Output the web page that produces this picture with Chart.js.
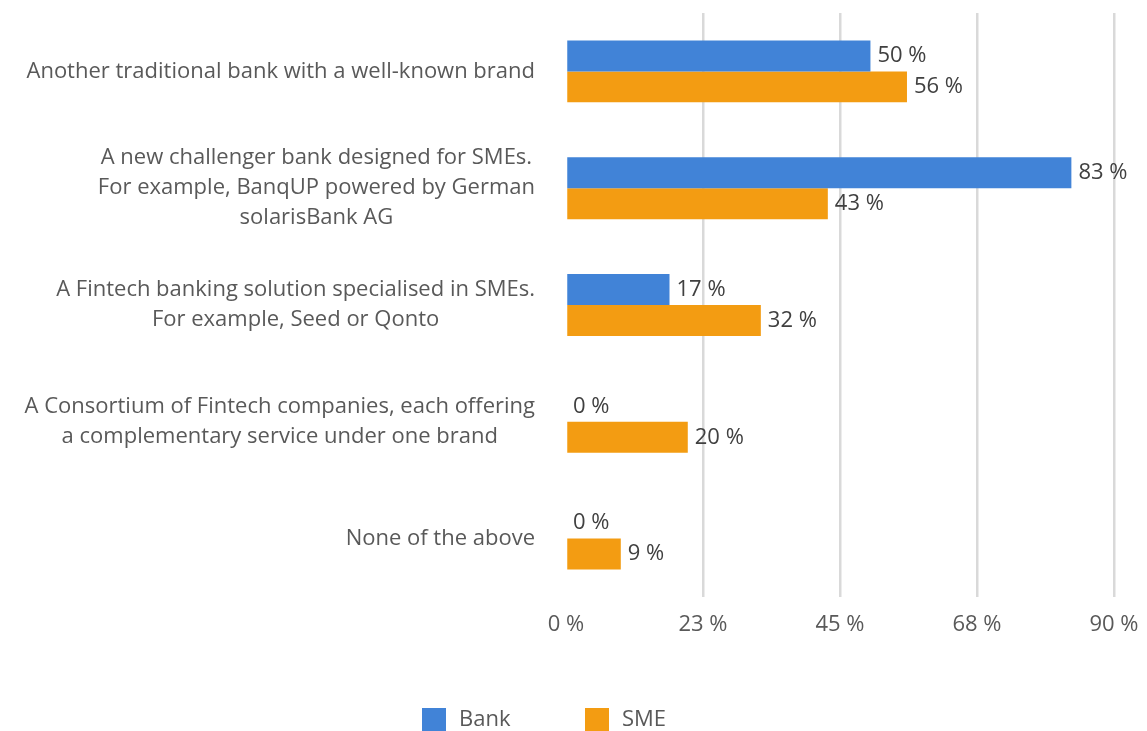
<!DOCTYPE html>
<html>
<head>
<meta charset="utf-8">
<script src="https://cdn.jsdelivr.net/npm/chart.js@4"></script>
<style>
    html, body { margin: 0; padding: 0; background: #ffffff; }
    #wrap { width: 1147px; height: 731px; position: relative; }
</style>
</head>
<body>
<div id="wrap"><canvas id="optionsChart"></canvas></div>
<script>
const categories = [
    ['Another traditional bank with a well-known brand'],
    ['A new challenger bank designed for SMEs.', 'For example, BanqUP powered by German', 'solarisBank AG'],
    ['A Fintech banking solution specialised in SMEs.', 'For example, Seed or Qonto'],
    ['A Consortium of Fintech companies, each offering', 'a complementary service under one brand'],
    ['None of the above']
];
const bankValues = [50, 83, 17, 0, 0];
const smeValues = [56, 43, 32, 20, 9];
const xTickLabels = ['0 %', '23 %', '45 %', '68 %', '90 %'];

const blueColor = '#4183d7';
const orangeColor = '#f39c12';
const labelColor = '#595959';
const valueColor = '#404040';
const fontFamily = "'Open Sans', 'Lato', sans-serif";

// category labels: block right-aligned to the axis, lines centred within
const categoryLabels = {
    id: 'categoryLabels',
    afterDraw(chart) {
        const ctx = chart.ctx;
        const yScale = chart.scales.y;
        const right = chart.chartArea.left - 31;
        ctx.save();
        ctx.font = '22px ' + fontFamily;
        ctx.fillStyle = labelColor;
        ctx.textAlign = 'center';
        ctx.textBaseline = 'middle';
        categories.forEach((lines, i) => {
            const y = yScale.getPixelForValue(i);
            const maxW = Math.max(...lines.map(l => ctx.measureText(l).width));
            const cx = right - maxW / 2;
            lines.forEach((line, j) => {
                ctx.fillText(line, cx, y + (j - (lines.length - 1) / 2) * 30);
            });
        });
        ctx.restore();
    }
};

// value labels at the end of each bar
const valueLabels = {
    id: 'valueLabels',
    afterDatasetsDraw(chart) {
        const ctx = chart.ctx;
        ctx.save();
        ctx.font = '22px ' + fontFamily;
        ctx.fillStyle = valueColor;
        ctx.textAlign = 'left';
        ctx.textBaseline = 'middle';
        chart.data.datasets.forEach((ds, di) => {
            chart.getDatasetMeta(di).data.forEach((bar, i) => {
                ctx.fillText(ds.data[i] + ' %', bar.x + 7, bar.y);
            });
        });
        ctx.restore();
    }
};

// legend drawn under the axis
const bottomLegend = {
    id: 'bottomLegend',
    afterDraw(chart) {
        const ctx = chart.ctx;
        let x = 422;
        const y = 720;
        ctx.save();
        ctx.font = '22px ' + fontFamily;
        ctx.textBaseline = 'middle';
        ctx.textAlign = 'left';
        chart.data.datasets.forEach(ds => {
            ctx.fillStyle = ds.backgroundColor;
            ctx.fillRect(x, y - 12, 24, 24);
            ctx.fillStyle = labelColor;
            ctx.fillText(ds.label, x + 37, y);
            x += 163;
        });
        ctx.restore();
    }
};

new Chart(document.getElementById('optionsChart'), {
    type: 'bar',
    data: {
        labels: categories,
        datasets: [
            {
                label: 'Bank',
                data: bankValues,
                backgroundColor: blueColor,
                categoryPercentage: 0.53,
                barPercentage: 1
            },
            {
                label: 'SME',
                data: smeValues,
                backgroundColor: orangeColor,
                categoryPercentage: 0.53,
                barPercentage: 1
            }
        ]
    },
    options: {
        indexAxis: 'y',
        responsive: true,
        maintainAspectRatio: false,
        animation: false,
        layout: {
            padding: { top: 13, right: 33, bottom: 89, left: 0 }
        },
        plugins: {
            legend: { display: false },
            tooltip: { enabled: false }
        },
        scales: {
            x: {
                min: 0,
                max: 90,
                border: { display: false },
                grid: {
                    drawTicks: false,
                    lineWidth: 2.5,
                    color: c => c.tick && c.tick.value === 0 ? 'rgba(0,0,0,0)' : '#d9d9d9'
                },
                ticks: {
                    stepSize: 22.5,
                    padding: 15,
                    color: labelColor,
                    font: { family: fontFamily, size: 22 },
                    callback: (v, i) => xTickLabels[i]
                },
                afterFit: scale => {
                    scale.height = 45;
                    scale.paddingLeft = 0;
                    scale.paddingRight = 0;
                }
            },
            y: {
                border: { display: false },
                grid: { display: false, drawTicks: false },
                ticks: { display: false },
                afterFit: scale => { scale.width = 566; }
            }
        }
    },
    plugins: [categoryLabels, valueLabels, bottomLegend]
});
</script>
</body>
</html>
